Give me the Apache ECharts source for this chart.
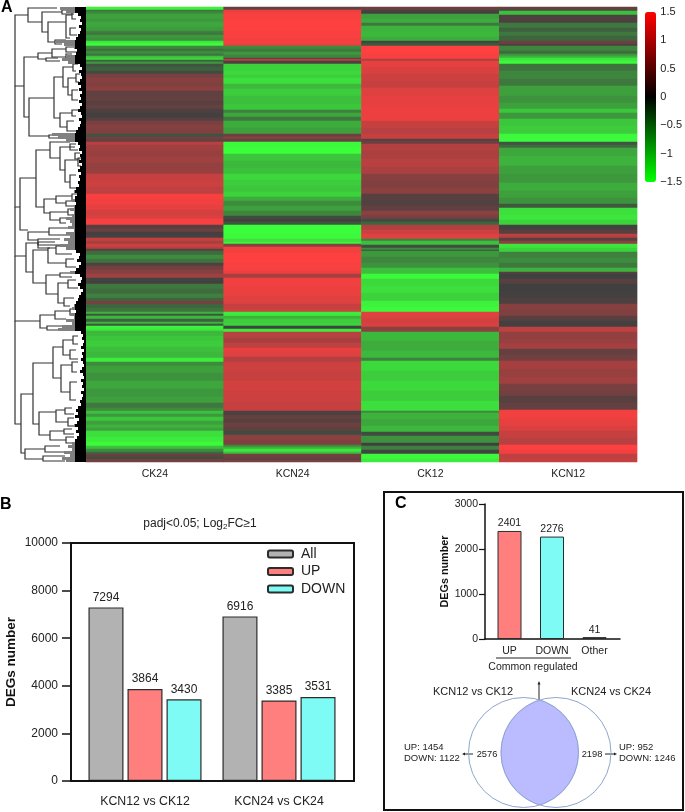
<!DOCTYPE html>
<html><head><meta charset="utf-8"><style>html,body{margin:0;padding:0;background:#fff}#c{width:685px;height:812px}</style>
<script src="https://cdn.jsdelivr.net/npm/echarts@6/dist/echarts.min.js"></script></head><body><div id="c"></div>
<script>
const FONT='"Liberation Sans",Arial,sans-serif', INK='#222';
// Heatmap: each entry is [last image row of the band, z-score]
const heatColumns=['CK24','KCN24','CK12','KCN12'];
const ck24=[[9,-1.4],[11,-0.45],[13,-0.6],[18,-0.75],[21,-0.7],[26,-0.8],[30,-0.72],[32,-0.5],[34,-0.42],[37,-0.7],[40,-0.62],[42,-1.3],[45,-1.45],[48,-0.55],[50,-0.35],[53,-0.6],[55,-0.4],[57,-1.0],[59,-1.2],[61,-0.3],[63,-0.7],[66,-0.15],[70,-0.25],[73,-0.1],[77,0.45],[82,0.55],[86,0.5],[90,0.6],[95,0.25],[100,0.3],[104,0.2],[108,0.3],[112,0.1],[117,0.05],[120,0.2],[124,0.45],[128,0.55],[133,0.5],[136,-0.15],[138,0.4],[141,0.3],[144,0.95],[150,0.75],[156,0.7],[162,0.75],[168,0.65],[173,0.7],[180,1.05],[186,1.1],[193,1.0],[198,1.45],[204,1.4],[209,1.3],[214,1.15],[218,1.2],[224,1.45],[228,0.2],[231,0.35],[235,0.05],[237,0.1],[240,1.05],[243,0.8],[246,1.1],[248,0.9],[250,0.2],[254,-0.35],[258,-0.6],[262,-0.4],[265,0.1],[269,0.4],[273,0.55],[277,0.75],[280,-0.05],[283,0.05],[288,-0.45],[293,-0.35],[297,-0.5],[300,-0.3],[303,0.45],[307,-0.3],[311,-0.4],[313,-0.9],[315,-0.2],[318,-0.95],[321,-0.25],[323,-0.9],[325,-0.2],[328,-1.4],[330,-1.3],[335,-0.95],[340,-1.05],[346,-1.1],[351,-1.0],[357,-0.95],[361,-1.35],[365,-0.6],[372,-0.75],[380,-0.65],[388,-0.8],[396,-0.7],[402,-0.75],[407,-0.45],[410,-0.6],[413,-1.0],[416,-0.7],[420,-1.05],[424,-0.75],[427,-0.9],[430,-0.75],[436,-1.25],[441,-1.35],[445,-1.45],[448,-1.0],[451,-0.6],[453,-0.3],[456,0.3],[458,-0.1],[462,0.4]];
const kcn24=[[9,0.3],[12,1.35],[20,1.45],[30,1.5],[38,1.45],[43,1.4],[45,1.3],[48,-0.6],[51,-0.45],[54,-0.7],[57,-0.55],[58,0.1],[60,0.95],[63,0.1],[70,-1.15],[74,-1.2],[77,-1.1],[83,-1.25],[88,-0.95],[95,-1.1],[103,-1.0],[109,-1.05],[112,-0.5],[116,-0.8],[120,-0.45],[127,-0.85],[133,-0.75],[136,0.35],[138,0.6],[141,0.3],[147,-1.45],[153,-1.5],[160,-1.05],[167,-0.95],[173,-1.0],[179,-1.2],[185,-1.1],[191,-1.05],[196,-1.15],[200,-0.85],[205,-0.6],[210,-0.75],[215,-0.55],[218,-0.1],[221,0.05],[224,-0.2],[232,-1.5],[238,-1.45],[241,-1.25],[243,-1.4],[246,0.55],[252,1.4],[262,1.5],[270,1.45],[273,1.35],[277,0.8],[285,1.4],[295,1.35],[303,1.25],[308,1.05],[311,1.1],[315,-1.35],[318,-0.9],[322,-1.1],[325,-1.15],[328,0.0],[331,-1.35],[337,0.95],[342,0.8],[347,1.0],[351,1.3],[356,1.25],[361,0.9],[370,1.1],[380,1.05],[390,1.15],[400,1.1],[410,1.05],[414,0.1],[418,0.3],[422,0.2],[426,0.35],[430,0.25],[434,-0.1],[439,0.6],[444,0.5],[446,-0.6],[448,-0.9],[451,-1.3],[453,-1.0],[457,0.4],[459,0.25],[462,0.45]];
const ck12=[[9,0.35],[10,0.15],[13,0.05],[18,-0.75],[22,-0.85],[25,-0.45],[31,-0.9],[36,-0.95],[40,-0.85],[42,-0.05],[45,-0.2],[52,1.5],[58,1.45],[60,0.85],[66,1.3],[73,1.2],[80,1.1],[87,1.05],[95,1.25],[105,1.3],[113,1.35],[120,1.35],[127,1.05],[133,0.95],[138,1.05],[140,0.2],[143,0.35],[150,0.9],[158,0.85],[166,0.95],[173,0.85],[180,0.55],[187,0.5],[193,0.6],[199,0.2],[205,0.15],[210,0.25],[214,0.6],[218,0.45],[221,-0.1],[224,-0.3],[229,0.9],[233,1.1],[238,1.25],[240,-0.5],[244,-1.0],[247,-0.1],[249,-0.6],[250,-0.1],[256,-0.7],[262,-0.55],[267,-0.65],[273,-1.0],[278,-1.45],[285,-1.2],[292,-1.25],[300,-1.15],[306,-1.4],[311,-1.45],[317,1.25],[322,1.15],[326,1.2],[331,0.6],[340,-0.95],[350,-0.85],[357,-0.95],[360,-0.5],[370,-1.2],[380,-1.1],[390,-1.2],[400,-1.1],[410,-1.25],[412,-0.6],[418,-0.9],[425,-0.8],[431,-0.95],[435,-0.1],[442,-0.65],[445,0.0],[449,-0.5],[453,-0.05],[458,-1.45],[462,-1.35]];
const kcn12=[[9,0.3],[10,-0.1],[14,-1.0],[22,0.1],[27,-0.45],[31,-0.25],[35,-0.45],[40,-0.3],[43,0.35],[45,0.1],[50,-0.55],[53,-0.35],[55,-0.7],[57,-0.9],[60,-1.3],[63,-1.45],[70,-0.4],[78,-0.55],[85,-0.45],[95,-0.75],[102,-0.65],[108,-0.75],[112,-1.05],[118,-0.7],[125,-1.05],[133,-1.1],[141,-1.45],[144,-0.15],[147,-0.35],[155,-0.8],[165,-0.9],[173,-0.75],[182,-0.7],[190,-0.85],[197,-0.75],[203,-0.65],[207,-0.2],[214,-1.25],[219,-1.3],[224,-1.15],[229,0.05],[233,0.2],[235,1.0],[237,0.9],[240,0.2],[243,0.6],[247,-1.3],[251,-1.15],[257,-0.5],[262,-0.6],[267,-0.45],[271,-0.9],[273,0.15],[278,0.0],[283,0.2],[290,0.0],[297,0.03],[303,0.1],[309,0.55],[315,0.5],[320,0.2],[326,0.05],[331,1.0],[338,0.65],[343,0.7],[348,0.8],[354,0.3],[360,0.4],[368,0.8],[376,0.7],[383,0.75],[390,0.45],[395,0.4],[402,0.2],[409,0.3],[418,1.4],[425,1.3],[430,1.2],[437,1.05],[444,0.95],[449,1.5],[453,1.4],[458,1.0],[462,1.05]];
const heatTicks=[-1.5,1.5];
// Dendrogram merges: [parent height, upper row, upper child height, lower row, lower child height]
const merges=[[15,15,28,86,24],[15,86,15,207,20],[15,207,15,256,26],[15,256,15,321,40],[15,321,15,424,21],
[28,8,57,22,42],[42,12,62,32,48],[48,22,66,42,55],[66,15,72,38,70],[72,11,78,19,76],[70,28,76,35,77],[62,10,68,14,74],[55,40,66,44,62],
[24,57,38,117,29],[38,53,52,59,46],[52,49,66,57,66],[66,47,74,52,78],[66,54,72,58,76],[46,58,58,61,60],
[29,98,54,136,49],[54,77,63,118,60],[63,67,73,87,68],[73,64,78,71,76],[68,78,76,95,72],[76,74,80,82,79],[72,90,78,100,78],
[60,113,72,127,67],[72,110,78,116,76],[67,121,74,131,76],[49,135,65,138,65],
[20,178,36,230,28],[36,150,50,207,44],[50,142,70,158,60],[70,144,76,150,78],[60,147,75,170,65],[75,153,80,159,80],[65,160,78,182,70],[78,158,81,166,81],[70,175,76,188,77],
[44,199,56,213,50],[56,196,72,203,66],[72,194,78,200,79],[66,201,76,206,76],[50,212,68,220,60],[68,209,76,215,76],[60,218,68,223,66],
[28,232,49,240,38],[49,228,70,235,70],[38,239,60,248,50],
[26,243,38,272,33],[38,242,55,245,60],[33,250,48,283,46],[48,248,56,263,66],[56,246,70,254,72],[66,259,74,267,76],[46,275,60,294,58],[60,273,72,277,72],[58,283,68,303,64],[68,280,76,288,78],[64,298,74,306,70],
[40,315,55,328,47],[55,311,70,319,66],[47,326,70,330,60],[70,309,76,315,76],
[21,394,33,453,25],[33,363,53,424,39],[53,347,63,378,61],[63,340,73,355,70],[73,336,78,344,78],[70,350,76,359,78],[61,365,72,392,70],[72,362,78,372,77],[70,382,77,400,76],
[39,412,56,435,50],[56,410,65,422,68],[65,408,72,414,74],[68,418,74,426,74],[50,431,64,440,66],[64,429,72,434,74],[66,437,74,443,74],
[25,449,45,459,43],[45,446,60,452,65],[43,456,65,461,65]];
// Left edge of the leaf mass, one value per 3-pixel row from the top
const leafEdges=[60,66,78,81,80,82,79,81,80,78,76,56,64,74,77,76,66,62,68,80,82,79,81,82,80,78,81,79,82,80,81,79,82,80,78,81,82,79,81,80,78,76,52,58,66,78,80,79,82,80,81,79,82,80,78,81,79,80,78,79,76,74,77,75,72,76,74,70,74,72,66,70,72,68,74,66,70,64,68,60,66,76,80,79,77,81,79,76,70,80,82,81,78,80,83,81,79,78,76,74,72,76,70,74,66,72,62,58,81,83,82,84,83,81,84,82,83,81,83,84,82,80,83,84,81,83,82,84,81,83,82,80,81,78,76,78,75,79,77,74,78,76,79,77,75,72,68,72,64,70,62,66];
// Panel B
const barCategories=['KCN12 vs CK12','KCN24 vs CK24'];
const allValues=[7294,6916], upValues=[3864,3385], downValues=[3430,3531];
// Panel C
const commonCategories=['UP','DOWN','Other'];
const commonValues=[2401,2276,41];
// Venn
const vennCircles=[[523.5,752.5,55],[556,752.5,55]];
const vennCounts=[2576,4718,2198];
const vennNames=['KCN12 vs CK12','KCN24 vs CK24'];
const leftDetail=['UP: 1454','DOWN: 1122'], rightDetail=['UP: 952','DOWN: 1246'];

const expand=(runs,col)=>{const out=[];let r=0;for(const [end,v] of runs){while(7+r<=end&&r<455){out.push([col,r,v]);r++;}}return out;};
const heatData=[ck24,kcn24,ck12,kcn12].flatMap(expand);
const rows=Array.from({length:455},(_,i)=>String(i));
const C={all:'#b2b2b2',up:'#ff7f7f',down:'#7ffbf6',edge:'#2c2c2c'};
const hiddenVal=(g,min,max,extra)=>Object.assign({type:'value',gridIndex:g,min,max,show:false},extra||{});
const plain=v=>String(v);

const option={animation:false,backgroundColor:'#fff',textStyle:{fontFamily:FONT},
title:{text:'padj<0.05; Log{s|2}FC≥1',left:195,top:512,textAlign:'center',textStyle:{fontFamily:FONT,fontSize:12,fontWeight:'normal',color:INK,rich:{s:{fontSize:8,verticalAlign:'bottom',padding:[6,0,0,0],color:INK,fontFamily:FONT}}}},
legend:{left:262,top:542,orient:'vertical',selectedMode:false,data:['All','UP','DOWN'],itemWidth:25,itemHeight:7,itemGap:3.5,icon:'roundRect',textStyle:{fontFamily:FONT,fontSize:14,color:INK,padding:[0,0,0,3]}},
visualMap:[
 {type:'continuous',min:-1.5,max:1.5,show:false,seriesIndex:0,dimension:2,inRange:{color:['#3cff3c','#404040','#ff4040']}},
 {type:'continuous',min:heatTicks[0],max:heatTicks[1],show:true,seriesIndex:3,left:645,top:12,padding:0,itemWidth:11,itemHeight:170,calculable:false,text:null,hoverLink:false,inRange:{color:['#00ff00','#000000','#ff0000']}}
],
grid:[
 {left:86,top:7,width:551,height:455},
 {left:0,top:7,width:86,height:455},
 {left:645,top:12,width:11,height:170},
 {left:71,top:543,width:283,height:238,show:true,borderColor:'#111',borderWidth:2,backgroundColor:'transparent',z:3},
 {left:78,top:543,width:268,height:238},
 {left:485,top:504,width:135,height:135},
 {left:488.25,top:504,width:127.5,height:135},
 {left:0,top:0,width:685,height:812}
],
xAxis:[
 {type:'category',gridIndex:0,data:heatColumns,axisLine:{show:false},axisTick:{show:false},axisLabel:{fontFamily:FONT,fontSize:10.5,color:INK,margin:7}},
 hiddenVal(1,0,86),
 hiddenVal(2,0,1),
 {type:'value',gridIndex:3,min:0,max:1,axisLine:{show:false},axisTick:{show:false},axisLabel:{show:false},splitLine:{show:false}},
 {type:'category',gridIndex:4,data:barCategories,axisLine:{show:false},axisTick:{alignWithLabel:true,length:9,lineStyle:{color:'#111',width:2}},axisLabel:{interval:0,fontFamily:FONT,fontSize:12.3,color:INK,margin:15}},
 {type:'value',gridIndex:5,min:0,max:1,axisLine:{show:true,onZero:false,lineStyle:{color:'#111',width:1.5}},axisTick:{show:false},axisLabel:{show:false},splitLine:{show:false}},
 {type:'category',gridIndex:6,data:commonCategories,axisLine:{show:false},axisTick:{alignWithLabel:true,length:5,lineStyle:{color:'#111',width:1.2}},axisLabel:{interval:0,fontFamily:FONT,fontSize:10.5,color:INK,margin:7}},
 hiddenVal(7,0,685)
],
yAxis:[
 {type:'category',gridIndex:0,data:rows,inverse:true,show:false},
 hiddenVal(1,7,462,{inverse:true}),
 {type:'value',gridIndex:2,min:-1.5,max:1.5,interval:0.5,position:'right',axisLine:{show:false},axisTick:{show:false},splitLine:{show:false},axisLabel:{fontFamily:FONT,fontSize:11,color:INK,margin:6,formatter:v=>String(v).replace('-','−')}},
 {type:'value',gridIndex:3,min:0,max:10000,interval:2000,axisLine:{show:false},axisTick:{show:true,length:9,lineStyle:{color:'#111',width:1.5}},splitLine:{show:false},axisLabel:{fontFamily:FONT,fontSize:12,color:INK,margin:13,formatter:plain},name:'DEGs number',nameLocation:'middle',nameGap:53,nameTextStyle:{fontFamily:FONT,fontSize:13.5,fontWeight:'bold',color:'#111'}},
 hiddenVal(4,0,10000),
 {type:'value',gridIndex:5,min:0,max:3000,interval:1000,axisLine:{show:true,lineStyle:{color:'#111',width:1.5}},axisTick:{show:true,length:6,lineStyle:{color:'#111',width:1.2}},splitLine:{show:false},axisLabel:{fontFamily:FONT,fontSize:10.5,color:INK,margin:7,formatter:plain},name:'DEGs number',nameLocation:'middle',nameGap:34,nameTextStyle:{fontFamily:FONT,fontSize:10.8,fontWeight:'bold',color:'#111'}},
 hiddenVal(6,0,3000),
 hiddenVal(7,0,812,{inverse:true})
],
series:[
 {type:'heatmap',xAxisIndex:0,yAxisIndex:0,data:heatData,progressive:0,silent:true,emphasis:{disabled:true},itemStyle:{borderWidth:0}},
 {type:'custom',xAxisIndex:1,yAxisIndex:1,silent:true,clip:false,data:merges,
  renderItem:(p,api)=>{const h=api.value(0),y1=api.value(1),x1=api.value(2),y2=api.value(3),x2=api.value(4);
   const pts=[[x1,y1],[h,y1],[h,y2],[x2,y2]].map(q=>api.coord(q));
   return {type:'polyline',shape:{points:pts},style:{fill:null,stroke:'#333',lineWidth:1.2}};}},
 {type:'custom',xAxisIndex:1,yAxisIndex:1,silent:true,clip:false,data:leafEdges.map((e,i)=>[e,7+3*i]),
  renderItem:(p,api)=>{const e=api.value(0),y=api.value(1),yb=Math.min(y+3,462),solid=Math.max(e,75);
   const box=(x0,fill)=>{const a=api.coord([x0,y]),b=api.coord([86,yb]);return {type:'rect',shape:{x:a[0],y:a[1],width:b[0]-a[0],height:b[1]-a[1]},style:{fill}};};
   return {type:'group',children:e<75?[box(e,'#808080'),box(solid,'#000')]:[box(solid,'#000')]};}},
 {type:'scatter',xAxisIndex:2,yAxisIndex:2,data:[],silent:true},
 ...[['All',allValues,C.all],['UP',upValues,C.up],['DOWN',downValues,C.down]].map(([name,d,col])=>({name,type:'bar',xAxisIndex:4,yAxisIndex:4,data:d,barWidth:35,barGap:'11.5%',z:2,
  itemStyle:{color:col,borderColor:C.edge,borderWidth:1.2},label:{show:true,position:'top',distance:4,fontFamily:FONT,fontSize:12,color:INK}})),
 {type:'bar',xAxisIndex:6,yAxisIndex:6,barWidth:24,z:2,
  data:commonValues.map((v,i)=>({value:v,itemStyle:{color:[C.up,C.down,'#111'][i],borderColor:C.edge,borderWidth:1}})),
  label:{show:true,position:'top',distance:2,fontFamily:FONT,fontSize:10.5,color:INK}},
 {type:'custom',xAxisIndex:7,yAxisIndex:7,silent:true,clip:false,data:[[0]],z:1,
  renderItem:(p,api)=>{const [a,b]=vennCircles,rx=api.coord([a[0]+a[2],a[1]])[0]-api.coord([a[0],a[1]])[0];
   const ca=api.coord([a[0],a[1]]),cb=api.coord([b[0],b[1]]),d=cb[0]-ca[0],th=Math.acos(d/2/rx);
   const pts=[];const S=48;
   for(let i=0;i<=S;i++){const t=-th+2*th*i/S;pts.push([ca[0]+rx*Math.cos(t),ca[1]+rx*Math.sin(t)]);}
   for(let i=0;i<=S;i++){const t=Math.PI-th+2*th*i/S;pts.push([cb[0]+rx*Math.cos(t),cb[1]+rx*Math.sin(t)]);}
   const ring=c=>({type:'circle',shape:{cx:c[0],cy:c[1],r:rx},style:{fill:null,stroke:'#8ea6cf',lineWidth:1}});
   return {type:'group',children:[{type:'polygon',shape:{points:pts},style:{fill:'#bbbbff',stroke:'#a9a9ee',lineWidth:0.6}},ring(ca),ring(cb)]};}}
],
graphic:{elements:[
 {type:'rect',z:-1,silent:true,shape:{x:384,y:492,width:299,height:318},style:{fill:null,stroke:'#111',lineWidth:2}},
 ...[['A',1,0],['B',0,497],['C',395,496]].map(([t,x,y])=>({type:'text',x,y,silent:true,style:{text:t,fontFamily:FONT,fontSize:16,fontWeight:'bold',fill:'#000'}})),
 {type:'line',silent:true,shape:{x1:496,y1:658,x2:571,y2:658},style:{stroke:'#222',lineWidth:1}},
 {type:'text',x:533,y:667,silent:true,style:{text:'Common regulated',fontFamily:FONT,fontSize:10.5,fill:INK,align:'center',verticalAlign:'middle'}},
 {type:'text',x:473,y:692,silent:true,style:{text:vennNames[0],fontFamily:FONT,fontSize:11,fill:INK,align:'center',verticalAlign:'middle'}},
 {type:'text',x:611,y:692,silent:true,style:{text:vennNames[1],fontFamily:FONT,fontSize:11,fill:INK,align:'center',verticalAlign:'middle'}},
 ...[487,539,592].map((x,i)=>({type:'text',x,y:754,silent:true,style:{text:String(vennCounts[i]),fontFamily:FONT,fontSize:9.3,fill:INK,align:'center',verticalAlign:'middle'}})),
 ...leftDetail.map((t,i)=>({type:'text',x:404,y:747+11*i,silent:true,style:{text:t,fontFamily:FONT,fontSize:9.5,fill:INK,verticalAlign:'middle'}})),
 ...rightDetail.map((t,i)=>({type:'text',x:619,y:747+11*i,silent:true,style:{text:t,fontFamily:FONT,fontSize:9.5,fill:INK,verticalAlign:'middle'}})),
 {type:'line',silent:true,shape:{x1:473,y1:754,x2:464,y2:754},style:{stroke:'#222',lineWidth:1}},
 {type:'polygon',silent:true,shape:{points:[[462,754],[465,752.5],[465,755.5]]},style:{fill:'#222'}},
 {type:'line',silent:true,shape:{x1:605,y1:754,x2:615,y2:754},style:{stroke:'#222',lineWidth:1}},
 {type:'polygon',silent:true,shape:{points:[[617,754],[614,752.5],[614,755.5]]},style:{fill:'#222'}},
 {type:'line',silent:true,shape:{x1:539,y1:712,x2:539,y2:684},style:{stroke:'#222',lineWidth:1}},
 {type:'polygon',silent:true,shape:{points:[[539,681],[537.5,684.5],[540.5,684.5]]},style:{fill:'#222'}}
]}};
echarts.init(document.getElementById('c')).setOption(option);
</script></body></html>
